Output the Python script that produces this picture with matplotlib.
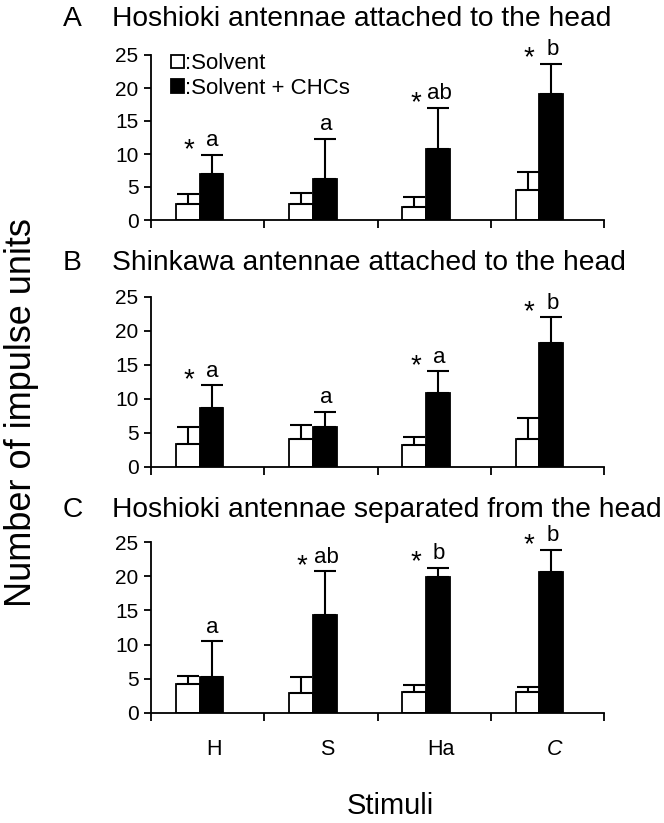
import numpy as np
import matplotlib
matplotlib.use("Agg")
import matplotlib.pyplot as plt

plt.rcParams['font.family'] = ['Liberation Sans', 'DejaVu Sans']

# stimuli on the x axis
stimuli = ['H', 'S', 'Ha', 'C']

# panel titles
panel_letters = ['A', 'B', 'C']
panel_titles = ['Hoshioki antennae attached to the head',
                'Shinkawa antennae attached to the head',
                'Hoshioki antennae separated from the head']

# means and (upper) error bars, solvent only
solvent_A = [2.4, 2.4, 1.9, 4.5]
solvent_A_err = [1.55, 1.7, 1.55, 2.75]
solvent_B = [3.3, 4.1, 3.2, 4.1]
solvent_B_err = [2.5, 2.0, 1.1, 3.0]
solvent_C = [4.15, 2.85, 3.1, 3.1]
solvent_C_err = [1.25, 2.35, 0.95, 0.7]

# solvent + CHCs
chcs_A = [6.9, 6.15, 10.8, 19.1]
chcs_A_err = [3.0, 6.15, 6.2, 4.6]
chcs_B = [8.7, 5.9, 10.9, 18.2]
chcs_B_err = [3.3, 2.2, 3.1, 3.8]
chcs_C = [5.2, 14.3, 19.9, 20.7]
chcs_C_err = [5.3, 6.5, 1.4, 3.2]

# significance marks
stars_A = [True, False, True, True]
letters_A = ['a', 'a', 'ab', 'b']
stars_B = [True, False, True, True]
letters_B = ['a', 'a', 'a', 'b']
stars_C = [False, True, True, True]
letters_C = ['a', 'ab', 'b', 'b']

panels = [
    (solvent_A, solvent_A_err, chcs_A, chcs_A_err, stars_A, letters_A),
    (solvent_B, solvent_B_err, chcs_B, chcs_B_err, stars_B, letters_B),
    (solvent_C, solvent_C_err, chcs_C, chcs_C_err, stars_C, letters_C),
]

W, H = 664, 823
fig = plt.figure(figsize=(W / 100, H / 100), dpi=100)

# axes boxes in pixels: (y of 25, y of 0)
ax_px = [(55, 220), (296.7, 466.7), (542.3, 712.7)]
title_base = [26, 270, 517]
x_left, x_right = 151, 604

bw = 0.21
x = np.arange(len(stimuli))
ekw = dict(elinewidth=1.5, capthick=1.5)
for k, (sv, se, cv, ce, st, lt) in enumerate(panels):
    ytop, ybot = ax_px[k]
    ax = fig.add_axes([x_left / W, 1 - ybot / H, (x_right - x_left) / W, (ybot - ytop) / H])
    xs = x + 0.43 - bw / 2
    xc = x + 0.43 + bw / 2
    ax.bar(xs, sv, bw, color='white', edgecolor='black', linewidth=1.3,
           yerr=[np.zeros(4), se], capsize=8, error_kw=ekw,
           label=':Solvent', zorder=2)
    ax.bar(xc, cv, bw, color='black', edgecolor='black', linewidth=1.3,
           yerr=[np.zeros(4), ce], capsize=8, error_kw=ekw,
           label=':Solvent + CHCs', zorder=2)
    for i in range(4):
        top = cv[i] + ce[i]
        ax.annotate(lt[i], (xc[i] + 0.01, top), xytext=(0, 6), textcoords='offset points',
                    ha='center', va='baseline', fontsize=16, annotation_clip=False)
        if st[i]:
            ax.annotate('*', (xs[i] + 0.01, top), xytext=(0, -1.5), textcoords='offset points',
                        ha='center', va='baseline', fontsize=20, annotation_clip=False)
    ax.set_xlim(0, 4)
    ax.set_ylim(0, 25)
    ax.set_yticks([0, 5, 10, 15, 20, 25])
    ax.set_xticks([0, 1, 2, 3, 4])
    ax.set_xticklabels([])
    for s in ['top', 'right']:
        ax.spines[s].set_visible(False)
    for s in ['left', 'bottom']:
        ax.spines[s].set_linewidth(1.3)
    ax.tick_params(axis='y', direction='out', length=5, width=1.3, pad=4, labelsize=15)
    ax.tick_params(axis='x', which='major', direction='out', length=6, width=1.3)
    if k == 2:
        ax.set_xticks(x + 0.56, minor=True)
        ax.set_xticklabels(stimuli, minor=True, fontsize=15.5)
        ax.tick_params(axis='x', which='minor', length=0, pad=19)
        ax.get_xticklabels(minor=True)[3].set_style('italic')
    if k == 0:
        ax.legend(loc='upper left', bbox_to_anchor=(0.045, 1.01), frameon=False,
                  fontsize=16, handlelength=0.55, handleheight=0.55,
                  handletextpad=0.05, labelspacing=0.15, borderaxespad=0, borderpad=0)
    fig.text(63 / W, 1 - title_base[k] / H, panel_letters[k], fontsize=20.3, va='baseline')
    fig.text(112 / W, 1 - title_base[k] / H, panel_titles[k], fontsize=20.3, va='baseline')

fig.text(22 / W, 0.499, 'Number of impulse units', rotation=90, fontsize=26,
         ha='center', va='center')
fig.text(390 / W, 1 - 806 / H, 'Stimuli', fontsize=21, ha='center', va='center')

fig.savefig('out.png', dpi=100)
